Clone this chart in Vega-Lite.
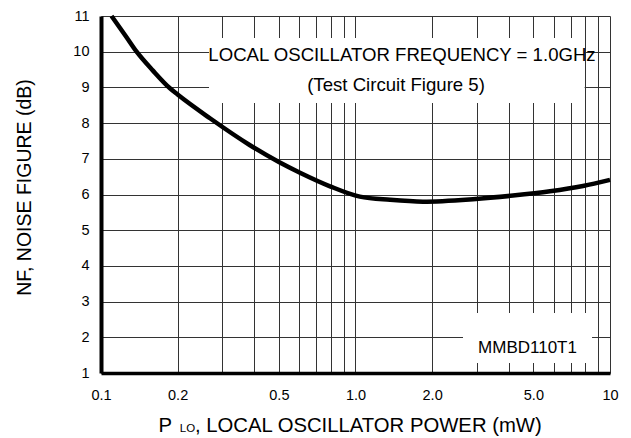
{
  "$schema": "https://vega.github.io/schema/vega-lite/v6.json",
  "width": 509,
  "height": 357,
  "autosize": {"type": "none"},
  "padding": {"left": 101, "top": 16, "right": 21, "bottom": 65},
  "background": "white",
  "config": {
    "view": {"stroke": null},
    "font": "Liberation Sans",
    "text": {"font": "Liberation Sans", "color": "black"}
  },
  "data": {
    "values": [
      {"power": 0.11, "nf": 11.0},
      {"power": 0.125, "nf": 10.44},
      {"power": 0.138, "nf": 10.0},
      {"power": 0.16, "nf": 9.47},
      {"power": 0.1866, "nf": 8.975},
      {"power": 0.2, "nf": 8.8},
      {"power": 0.268, "nf": 8.135},
      {"power": 0.385, "nf": 7.38},
      {"power": 0.5, "nf": 6.91},
      {"power": 0.605, "nf": 6.61},
      {"power": 0.794, "nf": 6.23},
      {"power": 1.04, "nf": 5.94},
      {"power": 1.367, "nf": 5.85},
      {"power": 1.84, "nf": 5.8},
      {"power": 2.895, "nf": 5.87},
      {"power": 4.157, "nf": 5.97},
      {"power": 5.81, "nf": 6.09},
      {"power": 7.83, "nf": 6.24},
      {"power": 10, "nf": 6.41}
    ]
  },
  "layer": [
    {
      "mark": {"type": "line", "color": "black", "strokeWidth": 4.5, "interpolate": "monotone"},
      "encoding": {
        "x": {
          "field": "power",
          "type": "quantitative",
          "scale": {"type": "log", "domain": [0.1, 10]},
          "axis": {
            "values": [0.1, 0.2, 0.3, 0.4, 0.5, 0.6, 0.7, 0.8, 0.9, 1, 2, 3, 4, 5, 6, 7, 8, 9, 10],
            "tickCount": 30,
            "labelExpr": "datum.value == 1 ? '1.0' : datum.value == 2 ? '2.0' : datum.value == 5 ? '5.0' : datum.value == 0.1 ? '0.1' : datum.value == 0.2 ? '0.2' : datum.value == 0.5 ? '0.5' : datum.value == 10 ? '10' : ''",
            "ticks": false,
            "tickSize": 0,
            "labelPadding": 26,
            "labelBaseline": "alphabetic",
            "labelFontSize": 14.5,
            "labelFlush": false,
            "labelOverlap": false,
            "labelColor": "black",
            "labelFont": "Liberation Sans",
            "grid": true,
            "gridColor": "#333333",
            "gridWidth": 1,
            "gridOpacity": 1,
            "domain": true,
            "domainColor": "black",
            "domainWidth": 3.5,
            "title": ", LOCAL OSCILLATOR POWER (mW)",
            "titleFont": "Liberation Sans",
            "titleFontSize": 20.3,
            "titleFontWeight": "normal",
            "titleColor": "black",
            "titleAnchor": "start",
            "titleAlign": "left",
            "titleBaseline": "alphabetic",
            "titleX": 93.5,
            "titleY": 58.7
          }
        },
        "y": {
          "field": "nf",
          "type": "quantitative",
          "scale": {"domain": [1, 11], "nice": false, "zero": false},
          "axis": {
            "values": [1, 2, 3, 4, 5, 6, 7, 8, 9, 10, 11],
            "tickCount": 20,
            "format": "d",
            "ticks": false,
            "tickSize": 0,
            "labelPadding": 12,
            "labelFontSize": 14.5,
            "labelOverlap": false,
            "labelColor": "black",
            "labelFont": "Liberation Sans",
            "labelBaseline": "middle",
            "grid": true,
            "gridColor": "#333333",
            "gridWidth": 1,
            "gridOpacity": 1,
            "domain": true,
            "domainColor": "black",
            "domainWidth": 4,
            "title": "NF, NOISE FIGURE (dB)",
            "titleFont": "Liberation Sans",
            "titleFontSize": 19.5,
            "titleFontWeight": "normal",
            "titleColor": "black",
            "titleAngle": 270,
            "titleAlign": "center",
            "titleBaseline": "alphabetic",
            "titleX": -71,
            "titleY": 171
          }
        }
      }
    },
    {
      "data": {"values": [{}]},
      "mark": {"type": "rect", "color": "white", "opacity": 1},
      "encoding": {
        "x": {"datum": 0.2657, "type": "quantitative"},
        "x2": {"datum": 7.95},
        "y": {"datum": 10.384, "type": "quantitative"},
        "y2": {"datum": 8.563}
      }
    },
    {
      "data": {"values": [{}]},
      "mark": {"type": "rect", "color": "white", "opacity": 1},
      "encoding": {
        "x": {"datum": 2.645, "type": "quantitative"},
        "x2": {"datum": 8.5},
        "y": {"datum": 2.681, "type": "quantitative"},
        "y2": {"datum": 1.28}
      }
    },
    {
      "data": {"values": [{}]},
      "mark": {"type": "text", "fontSize": 18.6, "align": "center", "baseline": "alphabetic", "text": "LOCAL OSCILLATOR FREQUENCY = 1.0GHz"},
      "encoding": {
        "x": {"datum": 1.523, "type": "quantitative"},
        "y": {"datum": 9.7255, "type": "quantitative"}
      }
    },
    {
      "data": {"values": [{}]},
      "mark": {"type": "text", "fontSize": 18.6, "align": "center", "baseline": "alphabetic", "text": "(Test Circuit Figure 5)"},
      "encoding": {
        "x": {"datum": 1.443, "type": "quantitative"},
        "y": {"datum": 8.913, "type": "quantitative"}
      }
    },
    {
      "data": {"values": [{}]},
      "mark": {"type": "text", "fontSize": 17, "align": "center", "baseline": "alphabetic", "text": "MMBD110T1"},
      "encoding": {
        "x": {"datum": 4.741, "type": "quantitative"},
        "y": {"datum": 1.552, "type": "quantitative"}
      }
    },
    {
      "data": {"values": [{}]},
      "mark": {"type": "text", "fontSize": 20.3, "align": "left", "baseline": "alphabetic", "text": "P"},
      "encoding": {
        "x": {"datum": 0.1682, "type": "quantitative"},
        "y": {"datum": -0.645, "type": "quantitative"}
      }
    },
    {
      "data": {"values": [{}]},
      "mark": {"type": "text", "fontSize": 11.5, "align": "left", "baseline": "alphabetic", "text": "LO"},
      "encoding": {
        "x": {"datum": 0.204, "type": "quantitative"},
        "y": {"datum": -0.653, "type": "quantitative"}
      }
    }
  ]
}
